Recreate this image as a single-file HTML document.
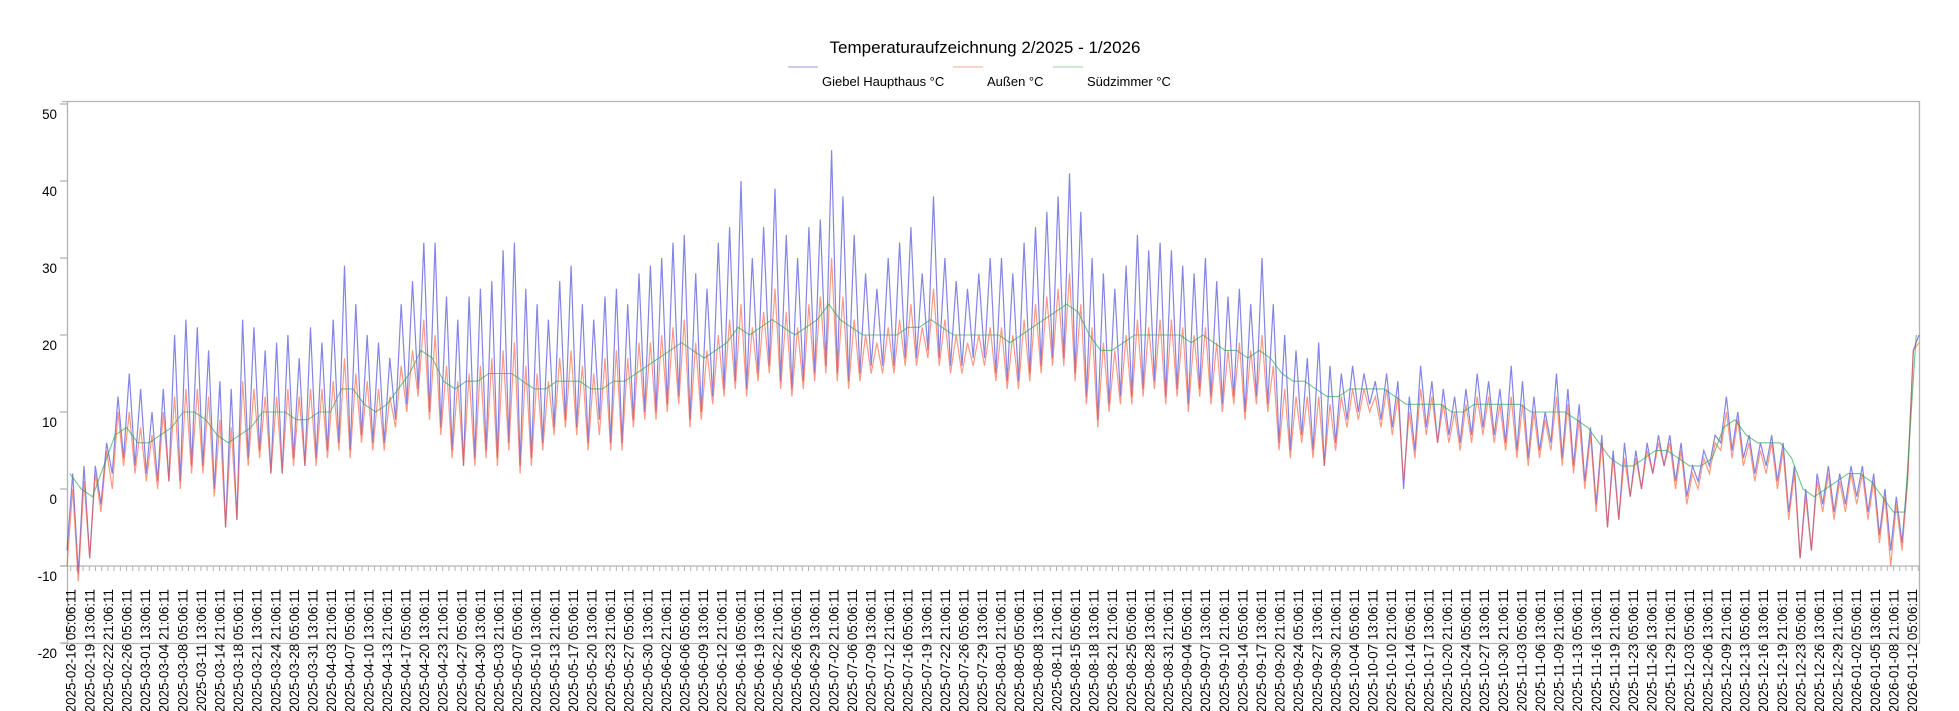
<!DOCTYPE html>
<html><head><meta charset="utf-8"><style>
html,body{margin:0;padding:0;background:#fff;}
svg{display:block;font-family:"Liberation Sans",sans-serif;}
</style></head><body>
<svg id="chart" width="1959" height="711" xmlns="http://www.w3.org/2000/svg">
<text x="985" y="53" font-size="17" text-anchor="middle" fill="#000">Temperaturaufzeichnung 2/2025 - 1/2026</text>
<g>
 <line x1="788" y1="67" x2="818" y2="67" stroke="#b9b9ee" stroke-width="1.5"/>
 <text x="822" y="86" font-size="13">Giebel Haupthaus °C</text>
 <line x1="953" y1="67" x2="983" y2="67" stroke="#ffc4b4" stroke-width="1.5"/>
 <text x="987" y="86" font-size="13">Außen °C</text>
 <line x1="1053" y1="67" x2="1083" y2="67" stroke="#b8e2bd" stroke-width="1.5"/>
 <text x="1087" y="86" font-size="13">Südzimmer °C</text>
</g>
<g id="axes"></g>
<g id="series"></g>
<g id="xlabels"></g>
</svg>
<script>
const yTicks = [50,40,30,20,10,0,-10,-20];
const blueHi = [2,3,3,6,12,15,13,
10,13,20,22,21,18,14,13,22,21,18,19,20,17,21,
19,22,29,24,20,19,17,24,27,32,32,25,22,25,26,
27,31,32,26,24,22,27,29,24,22,25,26,24,28,29,
30,32,33,28,26,32,34,40,30,34,39,33,30,34,35,
44,38,33,28,26,30,32,34,28,38,30,27,26,28,30,
30,28,32,34,36,38,41,36,30,28,26,29,33,31,32,
31,29,28,30,27,25,26,24,30,24,20,18,17,19,16,
15,16,15,14,15,14,12,16,14,13,12,13,15,14,13,
16,14,12,10,15,13,11,8,7,5,6,5,6,7,7,
6,3,5,7,12,10,7,6,7,6,3,0,2,3,2,
3,3,2,0,-1,2,20];
const blueLo = [-8,-11,-9,-2,2,4,3,
2,1,1,1,3,3,0,-5,-4,4,5,2,2,4,3,
4,5,6,5,7,6,6,9,11,13,10,8,5,3,4,
5,4,6,3,4,6,8,9,8,6,9,6,6,9,10,
10,11,12,9,10,12,13,14,13,15,16,14,13,14,15,
16,15,14,15,16,16,16,17,17,18,17,16,16,17,17,
15,14,14,15,16,17,17,15,12,9,11,12,12,13,14,
12,13,11,13,12,11,12,10,12,11,6,5,7,5,3,
6,9,10,11,9,8,0,5,8,6,7,6,7,8,7,
6,5,4,5,6,4,3,1,-2,-5,-4,-1,0,2,3,
1,-1,1,3,6,5,4,2,3,1,-3,-9,-8,-2,-3,
-2,-1,-3,-6,-8,-7,18];
const redHi = [0,1,2,5,10,10,8,
7,10,12,13,13,12,9,8,14,13,12,12,13,12,13,
13,14,17,15,14,13,12,16,18,22,20,16,14,15,16,
17,18,19,16,15,14,17,18,16,15,17,18,17,19,19,
20,21,22,19,18,20,22,24,21,23,26,23,21,24,25,
30,25,22,20,19,21,22,24,21,26,22,20,19,20,21,
21,20,22,24,25,26,28,24,21,19,18,20,22,21,22,
22,21,20,21,19,18,19,18,20,16,13,12,12,12,11,
12,13,13,12,13,12,10,13,12,11,10,11,12,12,11,
12,11,10,9,12,11,9,7,6,4,4,4,5,6,6,
5,2,4,6,10,9,6,5,6,5,2,-1,1,2,1,
2,2,1,-1,-2,1,19];
const redLo = [-10,-12,-9,-3,0,3,2,
1,0,1,0,2,2,-1,-5,-4,3,4,2,2,3,3,
3,4,5,4,6,5,5,8,10,12,9,7,4,3,3,
4,3,5,2,3,5,7,8,7,5,7,5,5,8,9,
9,10,11,8,9,11,12,13,12,14,15,13,12,13,14,
15,14,13,14,15,15,15,16,16,17,16,15,15,16,16,
14,13,13,14,15,16,16,14,11,8,10,11,11,12,13,
11,12,10,12,11,10,11,9,11,10,5,4,6,4,3,
5,8,9,10,8,7,1,4,7,6,6,5,6,7,6,
5,4,3,4,5,3,2,0,-3,-5,-4,-1,0,2,3,
0,-2,0,2,5,4,3,1,2,0,-4,-9,-8,-3,-4,
-3,-2,-4,-7,-10,-8,18];
const green = [2,0,-1,3,7,8,6,
6,7,8,10,10,9,7,6,7,8,10,10,10,9,9,
10,10,13,13,11,10,11,13,15,18,17,14,13,14,14,
15,15,15,14,13,13,14,14,14,13,13,14,14,15,16,
17,18,19,18,17,18,19,21,20,21,22,21,20,21,22,
24,22,21,20,20,20,20,21,21,22,21,20,20,20,20,
20,19,20,21,22,23,24,23,20,18,18,19,20,20,20,
20,20,19,20,19,18,18,17,18,17,15,14,14,13,12,
12,13,13,13,13,12,11,11,11,11,10,10,11,11,11,
11,11,10,10,10,10,9,8,6,4,3,3,4,5,5,
4,3,3,4,8,9,7,6,6,6,4,0,-1,0,1,
2,2,1,-1,-3,-3,20];

const NS='http://www.w3.org/2000/svg';
const X0=67, X1=1919, DAYS=331.85;
const yScale = v => 489 - v*7.7;
const xScale = i => X0 + (i/(blueHi.length-0.5))*(X1-X0);
function mk(tag, attrs, parent){const e=document.createElementNS(NS,tag);for(const k in attrs)e.setAttribute(k,attrs[k]);parent.appendChild(e);return e;}
const axes=document.getElementById('axes');
const grey='#b3b3b3';
// frame
let e;
e=mk('path',{d:`M62 101.5H${X1}.5V643.5H62M${X0}.5 101V643`,fill:'none',stroke:grey,'stroke-width':1.3},axes);


yTicks.forEach(v=>{
  const y=yScale(v);
  const t=mk('line',{x1:60,x2:X0,y1:y,y2:y,stroke:grey,'stroke-width':1.3},axes);
  
  
  const l=mk('text',{x:57,y:y+15,'font-size':13.4,'text-anchor':'end',fill:'#000'},axes);
  l.textContent=v;
  
  
});
// x axis at -10
const xa=mk('line',{x1:60,x2:X1,y1:yScale(-10),y2:yScale(-10),stroke:grey,'stroke-width':1.3},axes);


let td='';
const pxH=(X1-X0)/(DAYS*24);
const first=70.7;
for(let x=first-6.2*Math.floor((first-X0)/6.2);x<=X1;x+=18.6/3){td+=`M${x.toFixed(1)} ${yScale(-10)}v5`;}
const tk=mk('path',{d:td,stroke:grey,'stroke-width':1},axes);


// x labels
const xLabels=[];
const start=Date.UTC(2025,1,16,5,6,11);
for(let k=0;k<100;k++){const d=new Date(start+k*80*3600*1000);const p=n=>String(n).padStart(2,'0');
 xLabels.push(`${d.getUTCFullYear()}-${p(d.getUTCMonth()+1)}-${p(d.getUTCDate())} ${p(d.getUTCHours())}:${p(d.getUTCMinutes())}:${p(d.getUTCSeconds())}`);}
const xl=document.getElementById('xlabels');
xLabels.forEach((s,k)=>{
  const x=first+k*(1912-first)/99;
  const t=mk('text',{transform:`translate(${(x+5).toFixed(1)},589) rotate(-90)`,'font-size':13.4,'text-anchor':'end',fill:'#000'},xl);
  t.textContent=s;
  
  
});
// series
const sg=document.getElementById('series');
function zig(hi,lo){let d='';for(let i=0;i<hi.length;i++){d+=(i?'L':'M')+xScale(i).toFixed(1)+' '+yScale(lo[i]).toFixed(1)+'L'+xScale(i+0.5).toFixed(1)+' '+yScale(hi[i]).toFixed(1);}return d;}
function smooth(arr){let d='';for(let i=0;i<arr.length;i++){d+=(i?'L':'M')+xScale(i+0.25).toFixed(1)+' '+yScale(arr[i]).toFixed(1);}return d;}
const pb=mk('path',{d:zig(blueHi,blueLo),fill:'none',stroke:'rgba(50,50,215,0.6)','stroke-width':1.2},sg);


const pr=mk('path',{d:zig(redHi,redLo),fill:'none',stroke:'rgba(255,85,45,0.6)','stroke-width':1.2},sg);


const pg=mk('path',{d:smooth(green),fill:'none',stroke:'rgba(40,165,70,0.65)','stroke-width':1.1},sg);


</script>
</body></html>
